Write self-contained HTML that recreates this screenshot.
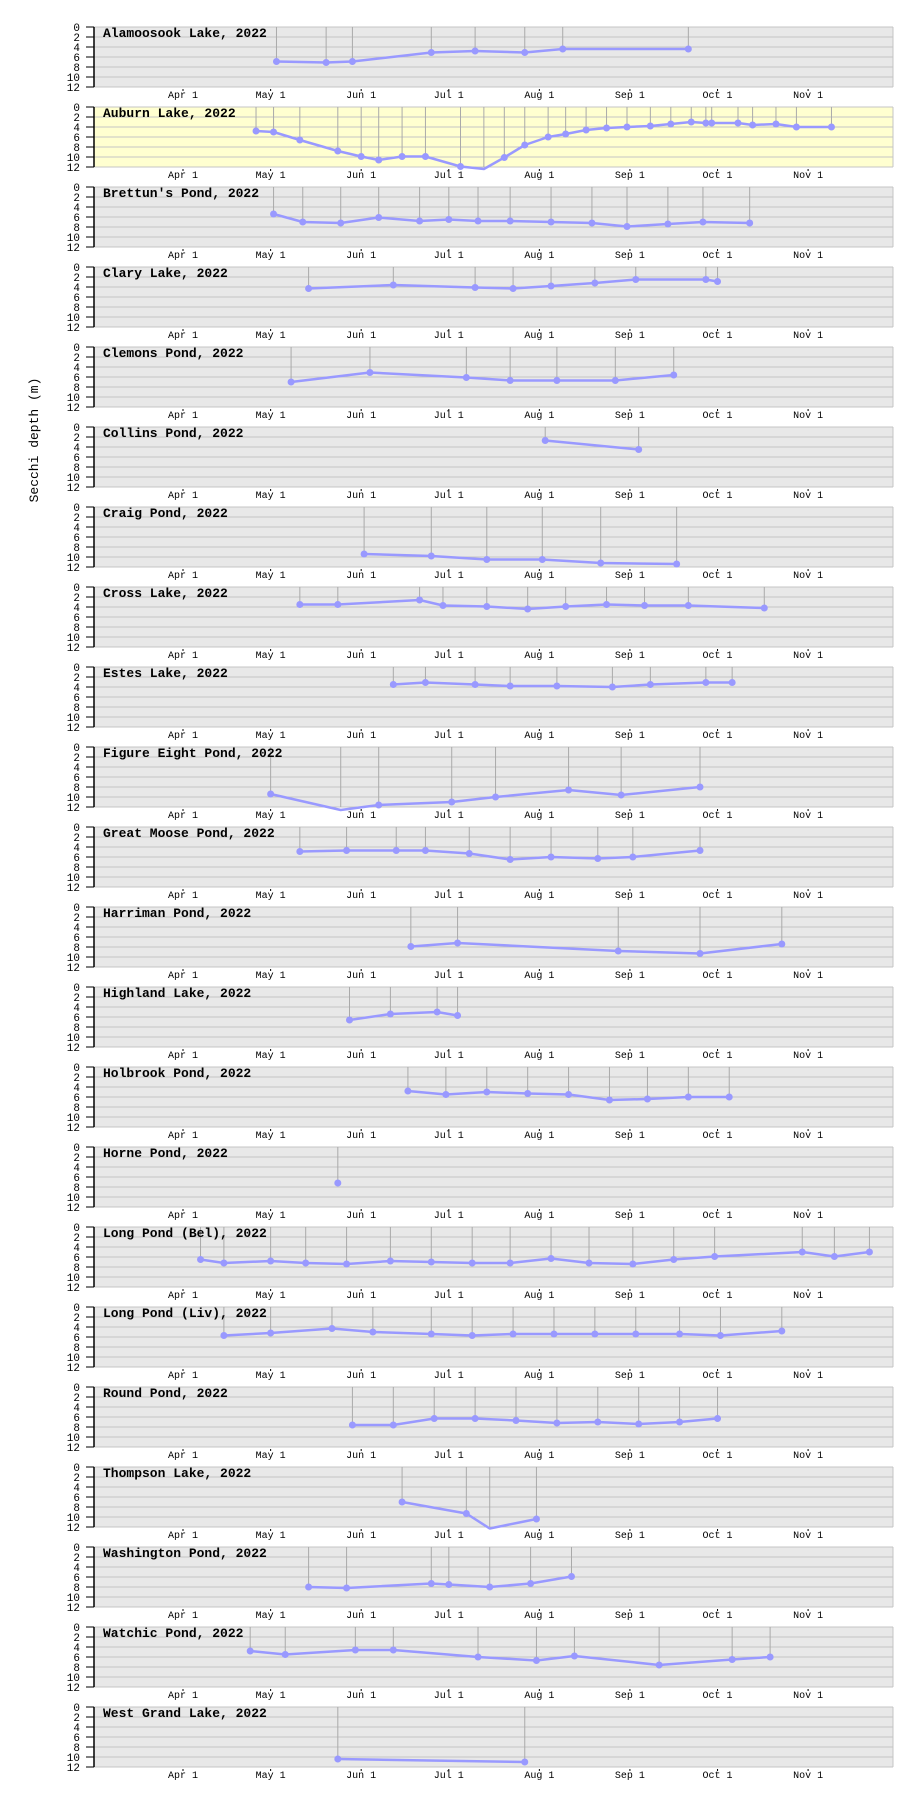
<!DOCTYPE html>
<html><head><meta charset="utf-8"><style>
html,body{margin:0;padding:0;background:#fff}
svg{display:block}
text{font-family:"Liberation Mono","DejaVu Sans Mono",monospace}
</style></head><body>
<svg id="chart" width="912" height="1799" xmlns="http://www.w3.org/2000/svg">
<text x="38" y="440" transform="rotate(-90 38 440)" text-anchor="middle" font-size="13" fill="#000">Secchi depth (m)</text>
</svg>
<script>
const lakeNames = ["Alamoosook Lake","Auburn Lake","Brettun's Pond","Clary Lake","Clemons Pond","Collins Pond","Craig Pond","Cross Lake","Estes Lake","Figure Eight Pond","Great Moose Pond","Harriman Pond","Highland Lake","Holbrook Pond","Horne Pond","Long Pond (Bel)","Long Pond (Liv)","Round Pond","Thompson Lake","Washington Pond","Watchic Pond","West Grand Lake"];
const highlighted = [1];
const monthLabels = ["Apr 1","May 1","Jun 1","Jul 1","Aug 1","Sep 1","Oct 1","Nov 1"];
const monthDays = [91,121,152,182,213,244,274,305];
const depthTicks = [0,2,4,6,8,10,12];
// sample day-of-year per lake
const days = [
[123,140,149,176,191,208,221,264],
[116,122,131,144,152,158,166,174,186,194,201,208,216,222,229,236,243,251,258,265,270,272,281,286,294,301,313],
[122,132,145,158,172,182,192,203,217,231,243,257,269,285],
[134,163,191,204,217,232,246,270,274],
[128,155,188,203,219,239,259],
[215,247],
[153,176,195,214,234,260],
[131,144,172,180,195,209,222,236,249,264,290],
[163,174,191,203,219,238,251,270,279],
[121,145,158,183,198,223,241,268],
[131,147,164,174,189,203,217,233,245,268],
[169,185,240,268,296],
[148,162,178,185],
[168,181,195,209,223,237,250,264,278],
[144],
[97,105,121,133,147,162,176,190,203,217,230,245,259,273,303,314,326],
[105,121,142,156,176,190,204,218,232,246,261,275,296],
[149,163,177,191,205,219,233,247,261,274],
[166,188,196,212],
[134,147,176,182,196,210,224],
[114,126,150,163,192,212,225,254,279,292],
[144,208]
];
const depths = [
[6.9,7.1,6.9,5.1,4.8,5.1,4.4,4.4],
[4.8,5.0,6.6,8.8,9.9,10.6,9.9,9.9,11.9,12.4,10.1,7.6,6.0,5.4,4.6,4.2,4.0,3.8,3.4,3.0,3.2,3.2,3.2,3.6,3.4,4.0,4.0],
[5.4,7.0,7.2,6.1,6.8,6.5,6.8,6.8,7.0,7.2,7.9,7.4,7.0,7.2],
[4.3,3.6,4.1,4.3,3.8,3.2,2.5,2.5,2.9],
[7.0,5.1,6.1,6.7,6.7,6.7,5.6],
[2.7,4.5],
[9.4,9.8,10.5,10.5,11.2,11.4],
[3.5,3.5,2.6,3.7,3.9,4.4,3.9,3.5,3.7,3.7,4.2],
[3.5,3.1,3.5,3.8,3.8,4.0,3.5,3.1,3.1],
[9.4,12.6,11.6,11.0,10.0,8.6,9.6,8.0],
[4.9,4.7,4.7,4.7,5.3,6.5,6.0,6.3,6.0,4.7],
[7.9,7.2,8.8,9.3,7.4],
[6.6,5.4,5.0,5.7],
[4.8,5.5,5.0,5.3,5.5,6.6,6.4,6.0,6.0],
[7.2],
[6.5,7.2,6.8,7.2,7.4,6.8,7.0,7.2,7.2,6.3,7.2,7.4,6.5,5.9,5.0,5.9,5.0],
[5.7,5.2,4.3,5.0,5.4,5.7,5.4,5.4,5.4,5.4,5.4,5.7,4.8],
[7.6,7.6,6.3,6.3,6.7,7.2,7.0,7.4,7.0,6.3],
[7.0,9.3,12.3,10.4],
[8.0,8.2,7.3,7.5,8.0,7.3,5.9],
[4.8,5.5,4.6,4.6,6.0,6.7,5.8,7.6,6.5,6.0],
[10.4,11.0]
];
const NS = "http://www.w3.org/2000/svg";
const svg = document.getElementById('chart');
const PL = 94, PR = 893, PH = 60, TOP0 = 27, PITCH = 80;
function xScale(d){ return 183 + (d - 91) * 2.921; }
function yScale(top, v){ return top + v * 5; }
function mk(tag, attrs, parent){ const e = document.createElementNS(NS, tag); for (const k in attrs) e.setAttribute(k, attrs[k]); (parent||svg).appendChild(e); return e; }
lakeNames.forEach((name, i) => {
  const top = TOP0 + i * PITCH;
  const g = mk('g', {});
  
  
  const bg = mk('rect', {x: PL, y: top, width: PR - PL, height: PH, fill: highlighted.includes(i) ? '#ffffd0' : '#e8e8e8'}, g);
  
  
  depthTicks.forEach(t => {
    const y = yScale(top, t);
    const gl = mk('line', {x1: PL, x2: PR, y1: y, y2: y, stroke: '#c4c4c4', 'stroke-width': 1}, g);
    
    
    const tk = mk('line', {x1: 86, x2: PL, y1: y, y2: y, stroke: '#000', 'stroke-width': 1}, g);
    
    
    const tl = mk('text', {x: 80, y: y + 4, 'text-anchor': 'end', 'font-size': 11, fill: '#000'}, g);
    tl.textContent = t;
    
    
  });
  const rb = mk('line', {x1: PR, x2: PR, y1: top, y2: top + PH, stroke: '#c4c4c4'}, g);
  
  
  const ax = mk('line', {x1: PL, x2: PL, y1: top, y2: top + PH, stroke: '#000', 'stroke-width': 1.5}, g);
  
  
  monthLabels.forEach((m, k) => {
    const x = xScale(monthDays[k]);
    const tm = mk('line', {x1: x, x2: x, y1: top + PH + 2, y2: top + PH + 4, stroke: '#000'}, g);
    
    
    const lt = mk('text', {x: x, y: top + PH + 11, 'text-anchor': 'middle', 'font-size': 10, fill: '#000'}, g);
    lt.textContent = m;
    
    
  });
  const ds = days[i], vs = depths[i];
  ds.forEach((d, k) => {
    const dl = mk('line', {x1: xScale(d), x2: xScale(d), y1: top, y2: yScale(top, Math.min(vs[k], 12)), stroke: '#aaaaaa', 'stroke-width': 1}, g);
    
    
  });
  if (ds.length > 1) {
    const pts = ds.map((d, k) => xScale(d).toFixed(1) + ',' + yScale(top, vs[k]).toFixed(1)).join(' ');
    const pl = mk('polyline', {points: pts, fill: 'none', stroke: '#9999ff', 'stroke-width': 2.5, 'stroke-linejoin': 'round'}, g);
    
    
  }
  ds.forEach((d, k) => {
    if (vs[k] > 12) return;
    const c = mk('circle', {cx: xScale(d), cy: yScale(top, vs[k]), r: 3.5, fill: '#9999ff'}, g);
    
    
  });
  const tt = mk('text', {x: 103, y: top + 10, 'font-size': 13, 'font-weight': 'bold', fill: '#000'}, g);
  tt.textContent = name + ', 2022';
  
  
});
</script>
</body></html>
